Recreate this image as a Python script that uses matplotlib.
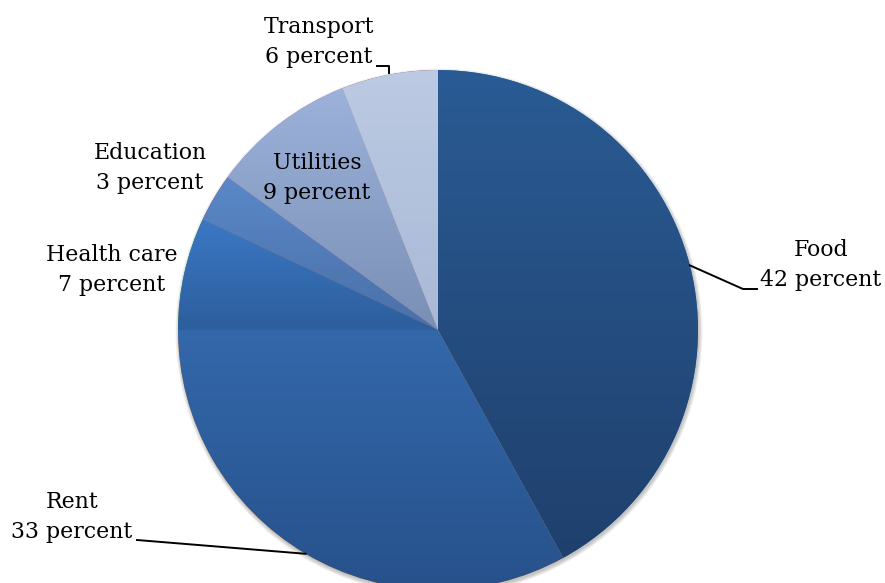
import numpy as np
import matplotlib.pyplot as plt
from matplotlib.colors import to_rgb
from matplotlib.patches import Circle

categories = ['Food', 'Rent', 'Health care', 'Education', 'Utilities', 'Transport']
shares = [42, 33, 7, 3, 9, 6]
top_colors = ['#2a5b94', '#3368ab', '#3b78c4', '#5a88c8', '#9cb2da', '#bccae3']
bottom_colors = ['#1f406d', '#27518b', '#2d5e9d', '#4a70a8', '#7a8fb5', '#a9b9d6']

W, H = 885, 583
cx, cy, r = 438, H - 330, 260

plt.rcParams['font.family'] = 'DejaVu Serif'

fig = plt.figure(figsize=(W / 100, H / 100), dpi=100)
ax = fig.add_axes([0, 0, 1, 1])

# soft drop shadow behind the pie
for k in range(7):
    ax.add_patch(Circle((cx + 1, cy - 2), r + 0.6 * k, color='black', alpha=0.035, lw=0, zorder=0))

wedges, _ = ax.pie(shares, startangle=90, counterclock=False, radius=r, center=(cx, cy),
                   wedgeprops=dict(linewidth=0))

# vertical gradient fill for every slice, clipped to the slice
t = np.linspace(0, 1, 256)[:, None, None]
for w, c0, c1 in zip(wedges, top_colors, bottom_colors):
    bb = w.get_path().get_extents()
    grad = np.array(to_rgb(c0))[None, None, :] * (1 - t) + np.array(to_rgb(c1))[None, None, :] * t
    im = ax.imshow(grad, extent=(bb.x0, bb.x1, bb.y0, bb.y1), origin='upper',
                   aspect='auto', interpolation='bilinear', zorder=2)
    im.set_clip_path(w)

ax.set_xlim(0, W)
ax.set_ylim(0, H)
ax.axis('off')

def edge_point(w):
    mid = np.deg2rad((w.theta1 + w.theta2) / 2)
    return cx + r * np.cos(mid), cy + r * np.sin(mid)

# label centres (x, y from the top)
label_pos = {
    'Food': (821, 265),
    'Rent': (72, 517),
    'Health care': (112, 270),
    'Education': (150, 168),
    'Utilities': (317, 178),
    'Transport': (319, 42),
}

for w, name, val in zip(wedges, categories, shares):
    x, y = label_pos[name]
    ax.text(x, H - y, f'{name}\n{val} percent', ha='center', va='center',
            fontsize=15.8, color='black', linespacing=1.5, zorder=5)

lw = 1.4
ex, ey = edge_point(wedges[0])
ax.plot([ex, 743, 757], [ey, H - 289, H - 289], color='black', lw=lw, zorder=4)
ex, ey = edge_point(wedges[1])
ax.plot([ex, 137], [ey, H - 540], color='black', lw=lw, zorder=4)
ex, ey = edge_point(wedges[5])
ax.plot([ex, ex, 377], [ey + 2, H - 66, H - 66], color='black', lw=lw, zorder=4)

fig.savefig('out.png', dpi=100, facecolor='white')
